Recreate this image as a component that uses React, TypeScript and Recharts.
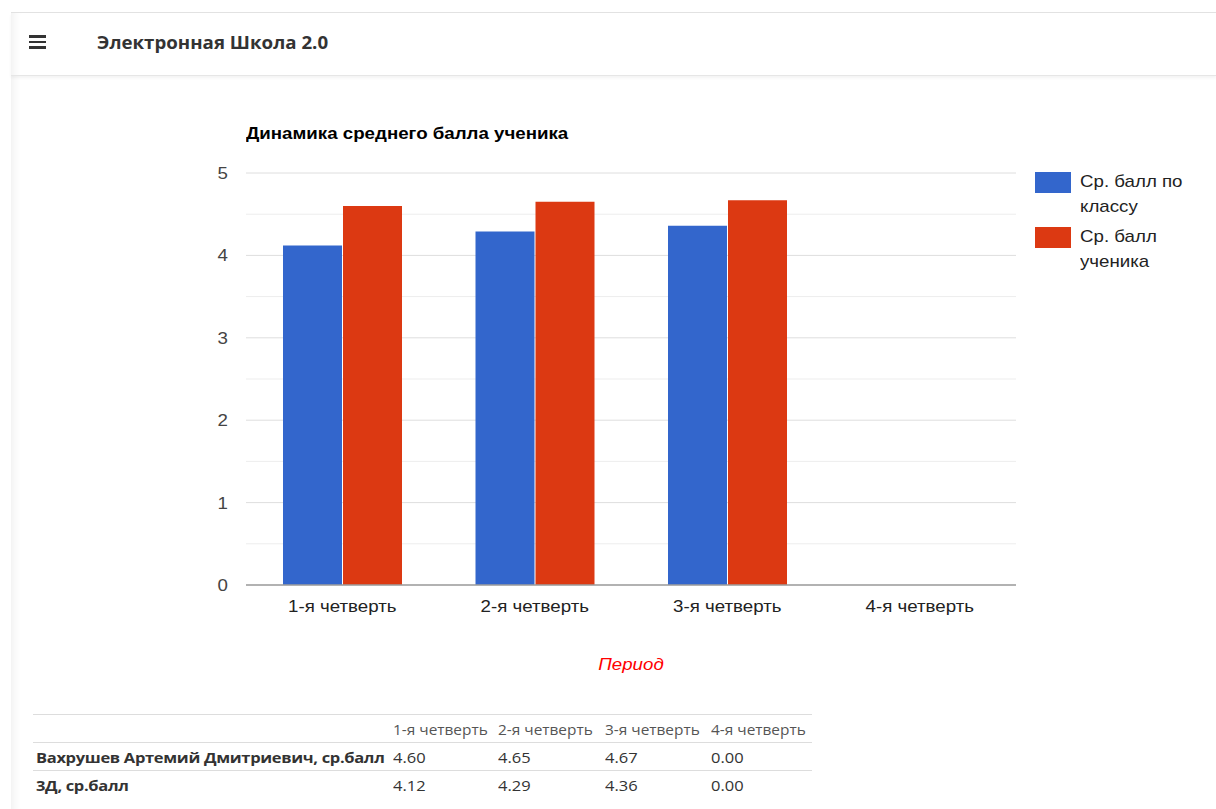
import { Bar, BarChart, CartesianGrid, Label, XAxis, YAxis } from "recharts";

const periods = ["1-я четверть", "2-я четверть", "3-я четверть", "4-я четверть"];
const classAvg = [4.12, 4.29, 4.36, 0];
const studentAvg = [4.6, 4.65, 4.67, 0];
const yTicks = [0, 0.5, 1, 1.5, 2, 2.5, 3, 3.5, 4, 4.5, 5];
const seriesNames = ["Ср. балл по классу", "Ср. балл ученика"];
const seriesColors = ["#3366cc", "#dc3912"];
const studentRowLabel = "Вахрушев Артемий Дмитриевич, ср.балл";
const classRowLabel = "3Д, ср.балл";

const data = periods.map((p, i) => ({ period: p, cls: classAvg[i], stu: studentAvg[i] }));

const chartFont = "Arial, 'Liberation Sans', sans-serif";
const uiFont = "'Open Sans', 'Noto Sans', sans-serif";
// the screenshot is slightly stretched horizontally
const SX = 1.1;

// inline text with the same horizontal stretch
function Wide({ children, style }: { children: any; style?: any }) {
  return (
    <span style={{ display: "inline-block", transform: `scaleX(${SX})`, transformOrigin: "left center", whiteSpace: "nowrap", ...style }}>
      {children}
    </span>
  );
}

function GridLine(props: any) {
  const { x1, x2, y1, y2, index } = props;
  const major = index % 2 === 0;
  return <line x1={x1} x2={x2} y1={y1} y2={y2} stroke={major ? "#dedede" : "#ededed"} strokeWidth={1} />;
}

function XTick(props: any) {
  const { x, y, payload } = props;
  return (
    <g transform={`translate(${x},${y})`}>
      <text transform={`scale(${SX},1)`} textAnchor="middle" dy="0.71em" fill="#222" fontSize={17} fontFamily={chartFont}>
        {payload.value}
      </text>
    </g>
  );
}

function YTick(props: any) {
  const { x, y, payload } = props;
  if (!Number.isInteger(payload.value)) return null;
  return (
    <g transform={`translate(${x},${y})`}>
      <text transform={`scale(${SX},1)`} textAnchor="end" dy="0.355em" fill="#444" fontSize={17} fontFamily={chartFont}>
        {payload.value}
      </text>
    </g>
  );
}

function AxisTitle(props: any) {
  const { viewBox } = props;
  const cx = viewBox.x + viewBox.width / 2;
  const by = viewBox.y + viewBox.height - 3;
  return (
    <g transform={`translate(${cx},${by})`}>
      <text transform={`scale(${SX},1)`} textAnchor="middle" fill="#ff0000" fontStyle="italic" fontSize={17} fontFamily={chartFont}>
        Период
      </text>
    </g>
  );
}

export default function App() {
  return (
    <div style={{ position: "absolute", left: 0, top: 0, width: 1216, height: 809, background: "#fff", overflow: "hidden" }}>
      {/* page body with left shadow */}
      <div
        style={{
          position: "absolute",
          left: 11,
          top: 12,
          width: 1205,
          height: 797,
          boxShadow: "inset 10px 0 10px -8px rgba(0,0,0,0.07)",
          borderTop: "1px solid #e2e2e2",
        }}
      />
      {/* header */}
      <div
        style={{
          position: "absolute",
          left: 11,
          top: 13,
          width: 1205,
          height: 62,
          borderBottom: "1px solid #e6e6e6",
          boxShadow: "0 2px 3px rgba(0,0,0,0.05)",
          fontFamily: uiFont,
        }}
      >
        <div style={{ position: "absolute", left: 18, top: 22, width: 17 }}>
          {[0, 5.5, 11].map((t) => (
            <div key={t} style={{ position: "absolute", top: t, left: 0, width: 17, height: 2.5, background: "#333" }} />
          ))}
        </div>
        <div style={{ position: "absolute", left: 86, top: 18, fontSize: 17, fontWeight: 700, color: "#333" }}>
          <Wide>Электронная Школа 2.0</Wide>
        </div>
      </div>

      {/* chart title */}
      <div style={{ position: "absolute", left: 246, top: 124, fontFamily: chartFont, fontSize: 17, fontWeight: 700, color: "#000" }}>
        <Wide>Динамика среднего балла ученика</Wide>
      </div>

      <div style={{ position: "absolute", left: 0, top: 0 }}>
        <BarChart
          width={1216}
          height={700}
          data={data}
          margin={{ top: 173, right: 200, bottom: 27, left: 206 }}
          barCategoryGap={37}
          barGap={1}
        >
          <CartesianGrid vertical={false} horizontal={(p: any) => <GridLine key={p.key ?? p.index} {...p} />} />
          <XAxis
            dataKey="period"
            tickLine={false}
            tickMargin={9}
            axisLine={{ stroke: "#9e9e9e", strokeWidth: 1.5 }}
            tick={(p: any) => <XTick {...p} />}
            height={88}
          >
            <Label content={(p: any) => <AxisTitle {...p} />} position="insideBottom" />
          </XAxis>
          <YAxis
            width={40}
            domain={[0, 5]}
            ticks={yTicks}
            interval={0}
            axisLine={false}
            tickLine={false}
            tickMargin={12}
            tick={(p: any) => <YTick {...p} />}
          />
          <Bar dataKey="cls" name={seriesNames[0]} fill={seriesColors[0]} isAnimationActive={false} />
          <Bar dataKey="stu" name={seriesNames[1]} fill={seriesColors[1]} isAnimationActive={false} />
        </BarChart>
      </div>

      {/* legend */}
      <div style={{ position: "absolute", left: 1035, top: 170, fontFamily: chartFont, fontSize: 17, color: "#222" }}>
        {seriesNames.map((n, i) => (
          <div key={n} style={{ position: "relative", height: 55 }}>
            <div style={{ position: "absolute", left: 0, top: 2, width: 36, height: 21, background: seriesColors[i] }} />
            <div
              style={{
                position: "absolute",
                left: 45,
                top: 0,
                width: 95,
                lineHeight: "24.5px",
                transform: `scaleX(${SX})`,
                transformOrigin: "left top",
              }}
            >
              {n}
            </div>
          </div>
        ))}
      </div>

      {/* data table */}
      <table
        style={{
          position: "absolute",
          left: 33,
          top: 714,
          width: 779,
          tableLayout: "fixed",
          borderCollapse: "collapse",
          fontFamily: uiFont,
          fontSize: 15,
          color: "#333",
        }}
      >
        <colgroup>
          <col style={{ width: 357 }} />
          <col style={{ width: 105 }} />
          <col style={{ width: 107 }} />
          <col style={{ width: 106 }} />
          <col style={{ width: 104 }} />
        </colgroup>
        <tbody>
          <tr style={{ borderTop: "1px solid #ddd", height: 28 }}>
            <td style={{ padding: 0 }} />
            {periods.map((p) => (
              <td key={p} style={{ padding: "0 0 0 3px", color: "#555", overflow: "visible" }}>
                <Wide style={{ fontSize: 14 }}>{p}</Wide>
              </td>
            ))}
          </tr>
          {[
            { label: studentRowLabel, vals: studentAvg },
            { label: classRowLabel, vals: classAvg },
          ].map((r) => (
            <tr key={r.label} style={{ borderTop: "1px solid #ddd", height: 28 }}>
              <td style={{ padding: "0 0 0 3px", fontWeight: 700, overflow: "visible" }}>
                <Wide style={{ letterSpacing: -0.3 }}>{r.label}</Wide>
              </td>
              {r.vals.map((v, i) => (
                <td key={i} style={{ padding: "0 0 0 3px" }}>
                  <Wide>{v.toFixed(2)}</Wide>
                </td>
              ))}
            </tr>
          ))}
        </tbody>
      </table>
    </div>
  );
}
